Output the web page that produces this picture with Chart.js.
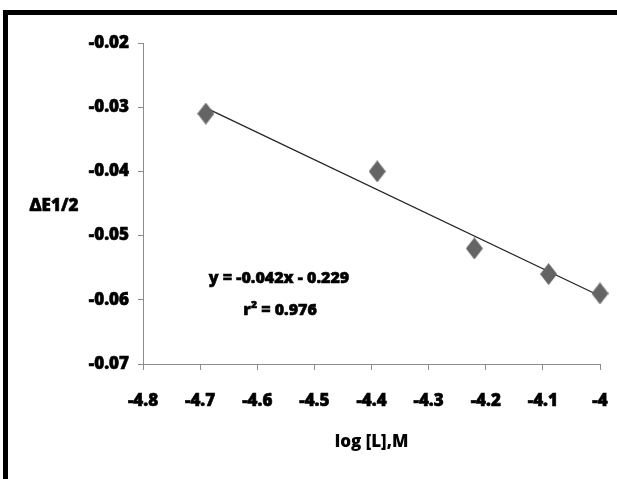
<!DOCTYPE html>
<html>
<head>
<meta charset="utf-8">
<script src="https://cdn.jsdelivr.net/npm/chart.js@4.4.1/dist/chart.umd.min.js"></script>
<style>
html,body{margin:0;padding:0;background:#fff;}
#c{display:block;}
</style>
</head>
<body>
<canvas id="c" width="617" height="479"></canvas>
<script>
// ---- data ----
const logL = [-4.69, -4.39, -4.22, -4.09, -4.00];
const deltaE = [-0.031, -0.040, -0.052, -0.056, -0.059];
const trendX = [-4.69, -4.00];
const trendY = [-0.0301, -0.0594];
const xTicks = [-4.8, -4.7, -4.6, -4.5, -4.4, -4.3, -4.2, -4.1, -4.0];
const xTickLabels = ['-4.8', '-4.7', '-4.6', '-4.5', '-4.4', '-4.3', '-4.2', '-4.1', '-4'];
const yTicks = [-0.07, -0.06, -0.05, -0.04, -0.03, -0.02];
const yTickLabels = ['-0.07', '-0.06', '-0.05', '-0.04', '-0.03', '-0.02'];
const xTitle = 'log [L],M';
const yTitle = 'ΔE1/2';
const eqLine1 = 'y = -0.042x - 0.229';
const eqLine2 = 'r² = 0.976';

const FONT = "'Open Sans', 'DejaVu Sans Condensed', sans-serif";
const W = 800;
const STROKE = 0.6;

// diamond marker
function makeDiamond(w, h, color) {
  const cv = document.createElement('canvas');
  cv.width = w; cv.height = h;
  const g = cv.getContext('2d');
  g.fillStyle = color;
  g.beginPath();
  g.moveTo(w / 2, 0); g.lineTo(w, h / 2); g.lineTo(w / 2, h); g.lineTo(0, h / 2);
  g.closePath(); g.fill();
  return cv;
}
const diamond = makeDiamond(17, 22, '#646464');

function boldText(ctx, t, x, y) {
  ctx.lineWidth = STROKE;
  ctx.strokeStyle = '#000';
  ctx.strokeText(t, x, y);
  ctx.fillText(t, x, y);
}

const framePlugin = {
  id: 'frame',
  afterDraw(chart) {
    const ctx = chart.ctx;
    const a = chart.chartArea;
    ctx.save();
    ctx.fillStyle = '#000';
    ctx.fillRect(3, 10, 614, 5);
    ctx.fillRect(3, 10, 5, 469);
    ctx.font = W + ' 17px ' + FONT;
    ctx.textAlign = 'center';
    ctx.textBaseline = 'middle';
    ctx.fillStyle = '#000';
    boldText(ctx, yTitle, 54, 206);
    ctx.font = W + ' 16px ' + FONT;
    boldText(ctx, eqLine1, a.left + 136, a.top + 235);
    boldText(ctx, eqLine2, a.left + 137, a.top + 267);
    ctx.restore();
  }
};

new Chart(document.getElementById('c'), {
  type: 'scatter',
  data: {
    datasets: [
      {
        label: 'trend',
        type: 'line',
        data: trendX.map((x, i) => ({x: x, y: trendY[i]})),
        borderColor: '#222',
        borderWidth: 1.2,
        pointRadius: 0,
        fill: false,
        clip: false,
        order: 2
      },
      {
        label: 'data',
        data: logL.map((x, i) => ({x: x, y: deltaE[i]})),
        pointStyle: diamond,
        backgroundColor: '#646464',
        borderColor: '#646464',
        clip: false,
        order: 1
      }
    ]
  },
  options: {
    responsive: false,
    animation: false,
    devicePixelRatio: 1,
    layout: {padding: {left: 0, right: 17, top: 43, bottom: 0}},
    plugins: {legend: {display: false}, tooltip: {enabled: false}},
    scales: {
      x: {
        type: 'linear',
        min: -4.8, max: -4.0,
        afterBuildTicks(s) { s.ticks = xTicks.map(v => ({value: v})); },
        afterFit(s) { s.height = 115; s.paddingRight = 0; s.paddingLeft = 0; },
        border: {display: true, color: '#8c8c8c', width: 1},
        grid: {display: true, drawOnChartArea: false, drawTicks: true, tickLength: 6, color: '#8c8c8c'},
        ticks: {
          padding: 21,
          color: '#000',
          textStrokeColor: '#000',
          textStrokeWidth: STROKE,
          font: {family: FONT, size: 17, weight: W},
          maxRotation: 0,
          callback: (v, i) => xTickLabels[i]
        },
        title: {
          display: true, text: xTitle, color: '#000',
          font: {family: FONT, size: 17, weight: W},
          padding: {top: 0, bottom: 27}
        }
      },
      y: {
        type: 'linear',
        min: -0.07, max: -0.02,
        afterBuildTicks(s) { s.ticks = yTicks.map(v => ({value: v})); },
        afterFit(s) { s.width = 143; s.paddingTop = 0; s.paddingBottom = 0; },
        border: {display: true, color: '#8c8c8c', width: 1},
        grid: {display: true, drawOnChartArea: false, drawTicks: true, tickLength: 5, color: '#8c8c8c'},
        ticks: {
          padding: 9,
          color: '#000',
          textStrokeColor: '#000',
          textStrokeWidth: STROKE,
          font: {family: FONT, size: 17, weight: W},
          callback: (v, i) => yTickLabels[i]
        }
      }
    }
  },
  plugins: [framePlugin]
});
</script>
</body>
</html>
